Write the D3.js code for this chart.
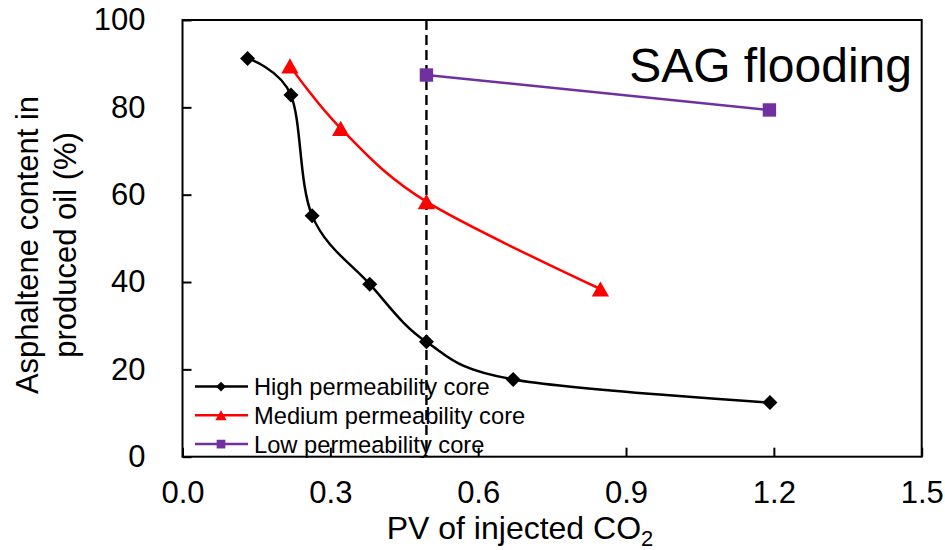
<!DOCTYPE html>
<html>
<head>
<meta charset="utf-8">
<script src="https://cdn.jsdelivr.net/npm/d3@7"></script>
<style>
  html, body { margin: 0; padding: 0; background: #fff; }
  svg { display: block; }
  text { font-family: "Liberation Sans", Arial, sans-serif; fill: #000; }
</style>
</head>
<body>
<svg id="chart" width="945" height="550"></svg>
<script>
// Asphaltene content of produced oil vs. injected CO2 (SAG flooding)
const highX = [0.132, 0.220, 0.263, 0.380, 0.495, 0.671, 1.192];
const highY = [91.2, 82.8, 55.2, 39.5, 26.3, 17.7, 12.4];
const medX  = [0.218, 0.321, 0.495, 0.848];
const medY  = [89.5, 75.2, 58.4, 38.4];
const lowX  = [0.495, 1.191];
const lowY  = [87.4, 79.4];
const breakthroughX = 0.495;

const xTicks = [0, 0.3, 0.6, 0.9, 1.2, 1.5];
const yTicks = [0, 20, 40, 60, 80, 100];
const seriesNames = ["High permeability core", "Medium permeability core", "Low permeability core"];

const svg = d3.select("#chart");
const m = { left: 182.5, right: 945 - 921.7, top: 20, bottom: 550 - 456.7 };
const W = 945 - m.left - m.right, H = 550 - m.top - m.bottom;

const x = d3.scaleLinear().domain([0, 1.5]).range([m.left, m.left + W]);
const y = d3.scaleLinear().domain([0, 100]).range([m.top + H, m.top]);

// marker shapes centered on their bounding box
const markers = {
  diamond: s => `M0,${-s}L${s},0L0,${s}L${-s},0Z`,
  triangle: s => `M0,${-s * 0.95}L${s * 1.08},${s * 0.95}L${-s * 1.08},${s * 0.95}Z`,
  square: s => `M${-s},${-s}H${s}V${s}H${-s}Z`
};

const series = [
  { name: seriesNames[0], xs: highX, ys: highY, color: "#000000", marker: "diamond", size: 7.5, smooth: true },
  { name: seriesNames[1], xs: medX, ys: medY, color: "#FF0000", marker: "triangle", size: 8, smooth: true },
  { name: seriesNames[2], xs: lowX, ys: lowY, color: "#7030A0", marker: "square", size: 6.7, smooth: false }
];

// axes (ticks point inward)
const xAxis = d3.axisBottom(x).tickValues(xTicks).tickFormat(d3.format(".1f"))
  .tickSizeInner(-9).tickSizeOuter(0).tickPadding(24);
const gx = svg.append("g").attr("transform", `translate(0,${m.top + H})`).call(xAxis);
gx.select(".domain").remove();
gx.selectAll(".tick line").attr("stroke", "#000").attr("stroke-width", 2);
gx.selectAll(".tick text").attr("font-size", 31).attr("fill", "#000");

const yAxis = d3.axisLeft(y).tickValues(yTicks).tickFormat(d3.format("d"))
  .tickSizeInner(-9).tickSizeOuter(0).tickPadding(37);
const gy = svg.append("g").attr("transform", `translate(${m.left},0)`).call(yAxis);
gy.select(".domain").remove();
gy.selectAll(".tick line").attr("stroke", "#000").attr("stroke-width", 2);
gy.selectAll(".tick text").attr("font-size", 31).attr("fill", "#000");

// plot frame
svg.append("rect")
  .attr("x", m.left).attr("y", m.top).attr("width", W).attr("height", H)
  .attr("fill", "none").attr("stroke", "#000").attr("stroke-width", 2);

// series lines
series.forEach(s => {
  const pts = s.xs.map((v, i) => [x(v), y(s.ys[i])]);
  const line = d3.line().curve(s.smooth ? d3.curveCardinal.tension(0) : d3.curveLinear);
  svg.append("path").attr("d", line(pts))
    .attr("fill", "none").attr("stroke", s.color).attr("stroke-width", 2.5);
});

// vertical dashed marker line
svg.append("line")
  .attr("x1", x(breakthroughX)).attr("x2", x(breakthroughX))
  .attr("y1", y(100)).attr("y2", y(0))
  .attr("stroke", "#000").attr("stroke-width", 2.4).attr("stroke-dasharray", "10,5");

// series markers
series.forEach(s => {
  svg.append("g").selectAll("path").data(s.xs.map((v, i) => [v, s.ys[i]])).join("path")
    .attr("transform", d => `translate(${x(d[0])},${y(d[1])})`)
    .attr("d", markers[s.marker](s.size))
    .attr("fill", s.color);
});

// legend
const lg = svg.append("g").attr("transform", "translate(195,386.5)");
series.forEach((s, i) => {
  const row = lg.append("g").attr("transform", `translate(0,${i * 28.8})`);
  row.append("line").attr("x1", 0).attr("x2", 53).attr("y1", 0).attr("y2", 0)
    .attr("stroke", s.color).attr("stroke-width", 2.5);
  row.append("path").attr("transform", "translate(26,0)")
    .attr("d", markers[s.marker](s.size * 0.65)).attr("fill", s.color);
  row.append("text").attr("x", 59).attr("y", 0).attr("dy", "0.36em")
    .attr("font-size", 23.7).text(s.name);
});

// annotation
svg.append("text").attr("x", 912).attr("y", 82).attr("text-anchor", "end")
  .attr("font-size", 48).text("SAG flooding");

// axis titles
const xt = svg.append("text").attr("x", 520).attr("y", 539).attr("text-anchor", "middle")
  .attr("font-size", 32);
xt.append("tspan").text("PV of injected CO");
xt.append("tspan").attr("font-size", 22).attr("dy", 7).text("2");

const yt = svg.append("text").attr("transform", "translate(0,245) rotate(-90)")
  .attr("text-anchor", "middle").attr("font-size", 31);
yt.append("tspan").attr("x", 0).attr("y", 38).text("Asphaltene content in");
yt.append("tspan").attr("x", 0).attr("y", 76).text("produced oil (%)");
</script>
</body>
</html>
